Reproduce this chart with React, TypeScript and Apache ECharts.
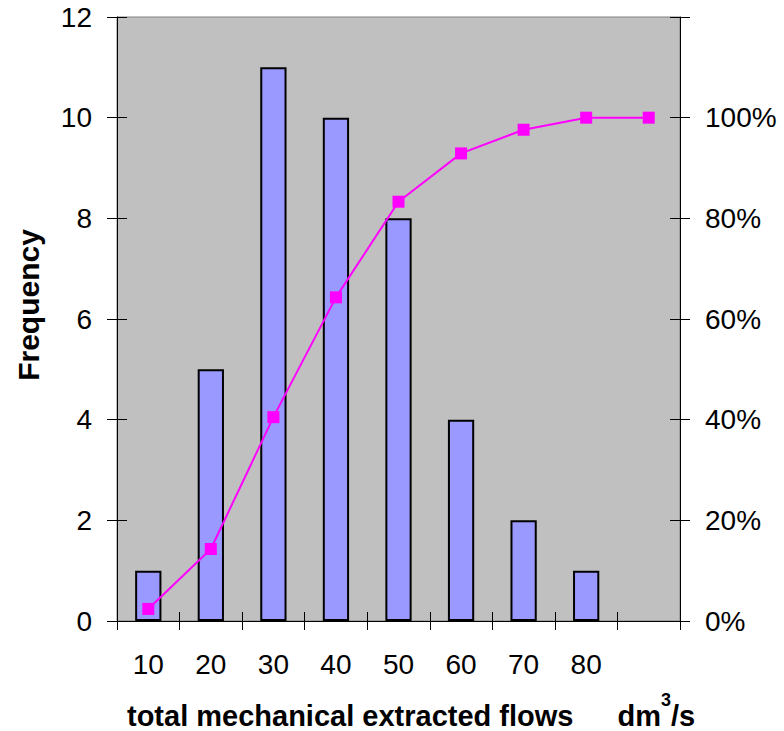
import React, { useEffect, useRef } from "react";
import * as echarts from "echarts";

const categories = ["10", "20", "30", "40", "50", "60", "70", "80", ""];
const frequency = [1, 5, 11, 10, 8, 4, 2, 1, 0];
const cumulativePct = [2.4, 14.3, 40.5, 64.3, 83.3, 92.9, 97.6, 100, 100];

const FONT = 'Arial, "Liberation Sans", sans-serif';

export default function App() {
  const ref = useRef<HTMLDivElement>(null);
  useEffect(() => {
    if (!ref.current) return;
    const chart = echarts.init(ref.current, null, { renderer: "svg" });
    const leftAxisBase = { type: "value", min: 0, max: 12, interval: 2, splitLine: { show: false } };
    const rightAxisBase = { type: "value", min: 0, max: 120, interval: 20, splitLine: { show: false } };
    const mainText = {
      fontFamily: FONT,
      fontSize: 29,
      fontWeight: "bold",
      color: "#000",
      lineHeight: 28,
      verticalAlign: "bottom",
    };
    const option: any = {
      animation: false,
      backgroundColor: "#ffffff",
      textStyle: { fontFamily: FONT },
      title: {
        text: "{a|total mechanical extracted flows}{d|dm}{s|3}{a|/s}",
        left: 127,
        top: 691,
        padding: 0,
        textStyle: {
          rich: {
            a: { ...mainText },
            d: { ...mainText, padding: [0, 0, 0, 44] },
            s: {
              fontFamily: FONT,
              fontSize: 18,
              fontWeight: "bold",
              color: "#000",
              lineHeight: 39,
              verticalAlign: "top",
            },
          },
        },
      },
      graphic: [
        {
          type: "text",
          x: 28,
          y: 305,
          rotation: Math.PI / 2,
          style: {
            text: "Frequency",
            font: `bold 30px ${FONT}`,
            fill: "#000",
            textAlign: "center",
            textVerticalAlign: "middle",
          },
        },
      ],
      grid: {
        left: 117,
        right: 104,
        top: 17,
        bottom: 110,
        show: true,
        backgroundColor: "#C0C0C0",
        borderColor: "#808080",
        borderWidth: 1,
      },
      xAxis: [
        {
          type: "category",
          data: categories,
          position: "bottom",
          axisLine: { show: true, lineStyle: { color: "#000", width: 1 } },
          axisTick: { show: true, inside: false, length: 9, lineStyle: { color: "#000", width: 1 } },
          axisLabel: { color: "#000", fontSize: 28, fontFamily: FONT, margin: 29 },
          splitLine: { show: false },
        },
        {
          type: "category",
          data: categories,
          position: "bottom",
          axisLine: { show: false },
          axisTick: { show: true, inside: true, length: 9, lineStyle: { color: "#000", width: 1 } },
          axisLabel: { show: false },
          splitLine: { show: false },
        },
      ],
      yAxis: [
        {
          ...leftAxisBase,
          position: "left",
          axisLine: { show: true, lineStyle: { color: "#000", width: 1 } },
          axisTick: { show: true, inside: false, length: 10, lineStyle: { color: "#000", width: 1 } },
          axisLabel: { color: "#000", fontSize: 28, fontFamily: FONT, margin: 25 },
        },
        {
          ...rightAxisBase,
          position: "right",
          axisLine: { show: true, lineStyle: { color: "#000", width: 1 } },
          axisTick: { show: true, inside: false, length: 10, lineStyle: { color: "#000", width: 1 } },
          axisLabel: {
            color: "#000",
            fontSize: 28,
            fontFamily: FONT,
            margin: 25,
            formatter: (v: number) => (v > 100 ? "" : `${v}%`),
          },
        },
        {
          ...leftAxisBase,
          position: "left",
          axisLine: { show: false },
          axisTick: { show: true, inside: true, length: 10, lineStyle: { color: "#000", width: 1 } },
          axisLabel: { show: false },
        },
        {
          ...rightAxisBase,
          position: "right",
          axisLine: { show: false },
          axisTick: { show: true, inside: true, length: 10, lineStyle: { color: "#000", width: 1 } },
          axisLabel: { show: false },
        },
      ],
      series: [
        {
          type: "bar",
          xAxisIndex: 0,
          yAxisIndex: 0,
          data: frequency.map((v) => (v === 0 ? "-" : v)),
          barWidth: "42%",
          itemStyle: { color: "#9999FF", borderColor: "#000", borderWidth: 2 },
          z: 2,
        },
        {
          type: "line",
          xAxisIndex: 0,
          yAxisIndex: 1,
          data: cumulativePct,
          symbol: "rect",
          symbolSize: 12,
          lineStyle: { color: "#FF00FF", width: 2 },
          itemStyle: { color: "#FF00FF" },
          z: 3,
        },
      ],
    };
    chart.setOption(option);
    return () => chart.dispose();
  }, []);
  return (
    <div
      ref={ref}
      style={{ position: "fixed", left: 0, top: 0, width: 784, height: 731, background: "#fff" }}
    />
  );
}
